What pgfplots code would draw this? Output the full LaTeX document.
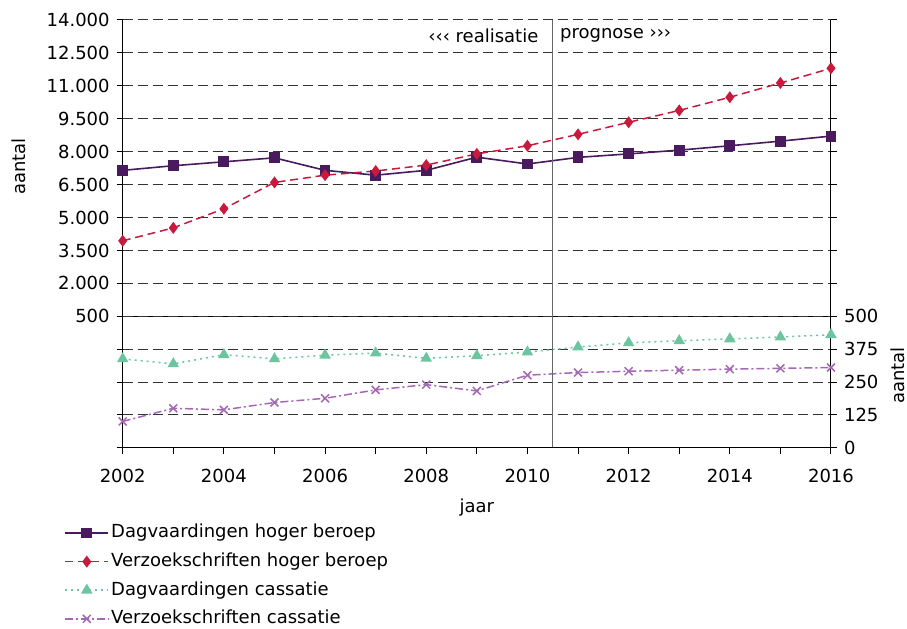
\documentclass[border=0pt]{standalone}
\usepackage{fontspec}
\setmainfont{DejaVu Sans}
\usepackage{pgfplots}
\pgfplotsset{compat=1.18}
\usepackage{pgfplotstable}

\definecolor{cDHB}{HTML}{4A1A5E}
\definecolor{cVHB}{HTML}{C81A3C}
\definecolor{cDC}{HTML}{6CC4A0}
\definecolor{cVC}{HTML}{A468B4}

\pgfplotstableread{
year dhb vhb dc vc
2002 7150 3940 338 100
2003 7360 4530 319 150
2004 7540 5400 354 144
2005 7720 6600 338 172
2006 7150 6930 352 188
2007 6930 7120 360 220
2008 7150 7390 340 240
2009 7750 7900 350 216
2010 7440 8270 364 276
2011 7740 8790 383 286
2012 7900 9340 399 291
2013 8070 9880 407 295
2014 8270 10480 414 299
2015 8480 11130 421 302
2016 8710 11800 430 305
}\datatable

\pgfplotsset{
  dhb/.style={cDHB, line width=0.8pt, mark=square*, mark size=2.3pt, mark options={solid, fill=cDHB}},
  vhb/.style={cVHB, line width=0.75pt, dash pattern=on 4pt off 2.4pt, mark=diamond*, mark size=2.4pt, mark options={solid, fill=cVHB}},
  dc/.style={cDC, line width=0.75pt, dash pattern=on 1pt off 2pt, mark=triangle*, mark size=2.6pt, mark options={solid, fill=cDC}},
  vc/.style={cVC, line width=0.75pt, dash pattern=on 4pt off 1.5pt on 1pt off 1.5pt, mark=x, mark size=2.8pt, mark options={solid}},
  every axis/.append style={
    scale only axis, width=354.15pt, xmin=2002, xmax=2016,
    axis line style={draw=none},
    tick align=outside, major tick length=3pt, minor tick length=3pt,
    tick style={black, line width=0.5pt},
    ymajorgrids, grid style={black!80, line width=0.5pt, dash pattern=on 5pt off 2.5pt},
    /pgf/number format/assume math mode=true,
    /pgf/number format/1000 sep={.},
    scaled y ticks=false,
    clip=false,
  },
  /pgfplots/legend image code/.code={
    \draw[mark repeat=2, mark phase=2, #1] plot coordinates {(0cm,0cm) (0.38cm,0cm) (0.76cm,0cm)};
  },
}

\begin{document}
\begin{tikzpicture}[font=\fontsize{9}{11}\selectfont]
\useasboundingbox (0,0) rectangle (453.5pt,314pt);

\begin{axis}[
  at={(61.35pt,155.85pt)}, anchor=south west, height=148.15pt,
  ymin=500, ymax=14000, ytick={500,2000,...,14000},
  xtick=\empty,
  ylabel={aantal},
  ylabel style={at={(axis description cs:-0.1464,0.5056)}, anchor=center},
]
\addplot[dhb] table[x=year, y=dhb] {\datatable};
\addplot[vhb] table[x=year, y=vhb] {\datatable};
\draw[black!60, line width=0.7pt] (axis cs:2010.5,500) -- (axis cs:2010.5,14000);
\draw[black, line width=0.5pt] (rel axis cs:0,1) -- (rel axis cs:0,0) -- (rel axis cs:1,0) -- (rel axis cs:1,1);
\node[anchor=north east, inner sep=0pt, xshift=-7pt, yshift=-4pt] at (axis cs:2010.5,14000) {‹‹‹ realisatie};
\node[anchor=north west, inner sep=0pt, xshift=3.5pt, yshift=-4pt] at (axis cs:2010.5,14000) {prognose ›››};
\end{axis}

\begin{axis}[
  at={(61.35pt,90.15pt)}, anchor=south west, height=65.7pt,
  ymin=0, ymax=500, ytick={0,125,...,500},
  yticklabel pos=right,
  xtick={2002,2004,...,2016}, minor xtick={2003,2005,...,2015}, xtick pos=bottom,
  x tick label style={/pgf/number format/1000 sep={}, yshift=-4pt},
  xlabel={jaar},
  xlabel style={at={(axis description cs:0.5,-0.459)}, anchor=center},
  ylabel={aantal},
  ylabel style={at={(axis description cs:1.0946,0.548)}, anchor=center},
  legend style={at={(axis description cs:-0.0829,-0.565)}, anchor=north west, draw=none, fill=none, inner sep=0pt, row sep=3.6pt, nodes={inner sep=1pt, text height=6.8pt, text depth=1.9pt}},
  legend cell align=left,
]
\addlegendimage{dhb}
\addlegendentry{Dagvaardingen hoger beroep}
\addlegendimage{vhb}
\addlegendentry{Verzoekschriften hoger beroep}
\addplot[dc] table[x=year, y=dc] {\datatable};
\addlegendentry{Dagvaardingen cassatie}
\addplot[vc] table[x=year, y=vc] {\datatable};
\addlegendentry{Verzoekschriften cassatie}
\draw[black!60, line width=0.7pt] (axis cs:2010.5,0) -- (axis cs:2010.5,500);
\draw[black, line width=0.5pt] (rel axis cs:0,1) -- (rel axis cs:0,0) -- (rel axis cs:1,0) -- (rel axis cs:1,1);
\end{axis}
\end{tikzpicture}
\end{document}
